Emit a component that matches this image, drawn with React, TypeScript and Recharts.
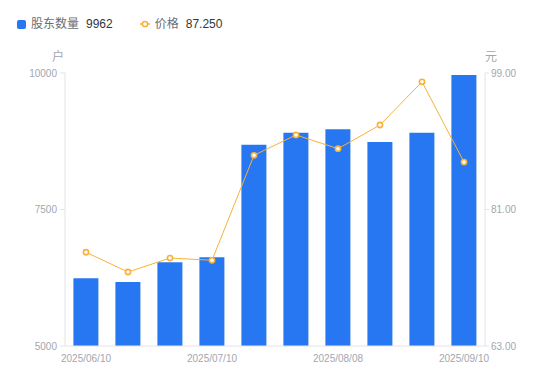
import React from "react";
import {
  ComposedChart,
  Bar,
  Line,
  XAxis,
  YAxis,
} from "recharts";

const dates = [
  "2025/06/10",
  "2025/06/20",
  "2025/06/30",
  "2025/07/10",
  "2025/07/18",
  "2025/07/31",
  "2025/08/08",
  "2025/08/20",
  "2025/08/29",
  "2025/09/10",
];
const holders = [6240, 6170, 6533, 6625, 8687, 8907, 8969, 8736, 8907, 9962];
const prices = [75.36, 72.76, 74.6, 74.3, 88.15, 90.83, 89.02, 92.14, 97.84, 87.25];

const leftTicks = [5000, 7500, 10000];
const rightTicks = [63, 81, 99];

const BLUE = "#2877f2";
const ORANGE = "#f8b13b";
const AXIS = "#e3e4e8";
const TICK = "#a3a6b0";

const data = dates.map((d, i) => ({ date: d, holders: holders[i], price: prices[i] }));

function UnitLabel({ viewBox, text, side }: any) {
  const x = side === "left" ? viewBox.x + viewBox.width - 1 : viewBox.x;
  return (
    <text
      x={x}
      y={viewBox.y - 12}
      textAnchor={side === "left" ? "end" : "start"}
      fontSize={12}
      fill={TICK}
    >
      {text}
    </text>
  );
}

export default function App() {
  const last = data.length - 1;
  return (
    <div
      style={{
        position: "absolute",
        left: 0,
        top: 0,
        width: 550,
        height: 381,
        background: "#fff",
        fontFamily: "'Liberation Sans', Arial, 'Noto Sans CJK SC', sans-serif",
      }}
    >
      <div
        style={{
          position: "absolute",
          left: 17,
          top: 15,
          display: "flex",
          alignItems: "center",
          fontSize: 12,
          lineHeight: "18px",
          whiteSpace: "nowrap",
        }}
      >
        <span
          style={{
            display: "inline-block",
            width: 9,
            height: 9,
            borderRadius: 2,
            background: BLUE,
            marginRight: 5,
          }}
        />
        <span style={{ color: "#6b6e76" }}>股东数量</span>
        <span style={{ color: "#33363d", marginLeft: 7 }}>{holders[last]}</span>
        <svg width={10} height={10} style={{ marginLeft: 27, marginRight: 5 }}>
          <line x1={0} y1={5} x2={10} y2={5} stroke={ORANGE} strokeWidth={1.5} />
          <circle cx={5} cy={5} r={2.6} fill="#fff" stroke={ORANGE} strokeWidth={1.5} />
        </svg>
        <span style={{ color: "#6b6e76" }}>价格</span>
        <span style={{ color: "#33363d", marginLeft: 7 }}>{prices[last].toFixed(3)}</span>
      </div>

      <ComposedChart
        width={550}
        height={381}
        data={data}
        margin={{ top: 73, right: 0, bottom: 5, left: 0 }}
        barCategoryGap="20%"
      >
        <XAxis
          dataKey="date"
          interval={2}
          height={30}
          axisLine={{ stroke: AXIS }}
          tickLine={false}
          tickSize={0}
          tickMargin={9}
          tick={{ fontSize: 10, fill: TICK }}
        />
        <YAxis
          yAxisId="left"
          orientation="left"
          width={65}
          domain={[5000, 10000]}
          ticks={leftTicks}
          allowDataOverflow
          axisLine={{ stroke: AXIS }}
          tickLine={{ stroke: AXIS }}
          tickSize={5}
          tickMargin={3}
          tick={{ fontSize: 10, fill: TICK }}
          label={(p: any) => <UnitLabel {...p} text="户" side="left" />}
        />
        <YAxis
          yAxisId="right"
          orientation="right"
          width={65}
          domain={[63, 99]}
          ticks={rightTicks}
          allowDataOverflow
          axisLine={{ stroke: AXIS }}
          tickLine={{ stroke: AXIS }}
          tickSize={4}
          tickMargin={2}
          tickFormatter={(v: number) => v.toFixed(2)}
          tick={{ fontSize: 10, fill: TICK }}
          label={(p: any) => <UnitLabel {...p} text="元" side="right" />}
        />
        <Bar
          yAxisId="left"
          dataKey="holders"
          fill={BLUE}
          isAnimationActive={false}
        />
        <Line
          yAxisId="right"
          type="linear"
          dataKey="price"
          stroke={ORANGE}
          strokeWidth={1}
          dot={{ r: 2.6, fill: "#fff", stroke: ORANGE, strokeWidth: 1.6 }}
          isAnimationActive={false}
        />
      </ComposedChart>
    </div>
  );
}
